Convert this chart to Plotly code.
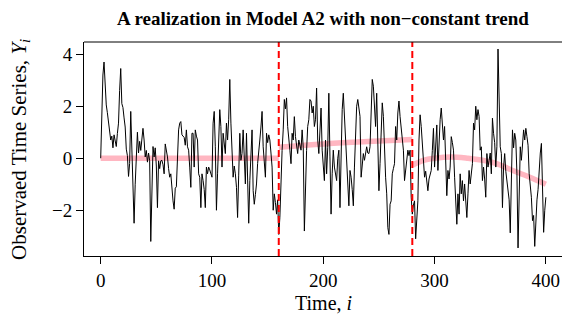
import plotly.graph_objects as go

series_y = [
    0.00, 1.60, 3.20, 3.70, 2.80, 2.05, 1.75, 1.45, 1.15, 0.70,
    0.85, 0.40, 0.90, 0.60, 0.45, 0.95, 1.35, 2.60, 3.45, 2.10,
    1.95, 1.55, 1.20, 0.35, 0.10, -0.70, -0.20, 1.80, 0.40, -1.20,
    -2.50, -1.00, 0.30, 1.00, 0.20, 0.65, 0.30, 0.85, 1.15, 0.70,
    0.05, 0.30, -0.15, 0.20, -0.10, -3.20, -0.85, 0.45, 0.05, 0.40,
    -0.30, -1.90, -0.10, -0.40, -0.10, -0.08, -0.25, -0.60, 0.55, 0.30,
    0.05, -0.40, -0.73, -0.60, -1.20, -1.64, -1.96, -1.15, -1.10, 0.20,
    1.09, 1.35, 1.41, 0.90, 0.83, 0.80, 0.50, 1.09, 0.44, 0.31,
    -0.34, -1.12, 0.96, 0.96, -0.34, 1.09, 0.85, 0.70, -0.60, -0.73,
    -1.90, -0.60, -0.86, -1.20, -1.90, -0.34, -0.60, -0.34, -0.45, -0.60,
    -0.73, 1.35, 1.80, 0.44, -2.00, -0.60, 0.90, 1.87, 1.22, -0.34,
    0.96, 0.40, 0.18, 1.35, 0.70, 1.50, 3.03, 1.35, 0.31, -0.73,
    -0.30, -0.60, -1.12, -2.28, -0.65, 0.96, -0.08, 0.18, 1.09, 0.20,
    -0.99, 0.96, -0.40, -2.50, -0.86, 0.20, 1.09, -1.25, -1.77, -1.40,
    -0.99, -0.20, 0.44, 0.70, 1.20, 1.80, 0.44, -0.20, -0.73, 0.96,
    0.60, 0.90, 0.70, 0.20, -0.34, -2.00, -1.37, -1.70, -2.15, -1.60,
    -2.93, -2.28, -0.60, 0.30, 1.09, 2.26, 1.90, 2.32, 1.22, 0.60,
    0.31, -0.21, 0.96, 0.70, 1.60, 0.83, 0.50, 0.18, 0.70, 0.45,
    0.31, 1.09, 0.40, -2.80, -0.60, 0.30, 1.22, 1.48, 2.26, 2.20,
    1.74, 2.00, 1.22, 1.48, 2.70, 0.70, 0.18, 0.90, 1.93, 0.31,
    -0.20, -0.86, 0.70, -0.60, 0.40, 2.50, 0.05, -2.15, -0.60, 0.31,
    -0.34, -0.60, -0.86, 0.00, 0.31, -1.90, 0.70, 1.87, 2.50, 1.61,
    0.60, -0.34, -1.00, -1.83, -0.47, -0.73, -1.20, -1.83, -0.34, 0.90,
    2.00, 2.26, 1.90, 1.61, -0.73, -0.30, 0.18, -0.08, 0.30, 0.44,
    0.20, 0.18, 0.44, 1.61, 3.03, 2.77, 1.80, 1.22, 2.50, 0.70,
    -1.25, -0.21, 0.80, 2.13, 1.61, 0.31, -0.73, -1.37, -2.67, -2.93,
    -1.77, -1.64, -0.60, -0.40, -0.21, 1.22, 0.70, 1.74, 2.20, 1.60,
    1.22, 0.80, 0.31, -0.86, -0.40, -0.08, 0.31, 0.10, 0.31, -1.50,
    -2.15, -1.80, -1.64, -3.10, -2.30, -1.64, 0.70, 1.67, 1.22, 0.40,
    -0.34, -0.73, -0.50, -0.99, -1.25, -0.80, -0.60, -0.47, 0.30, 1.15,
    -0.34, 0.50, 1.28, -0.47, 0.60, 1.48, 1.93, 1.20, 0.70, 1.22,
    0.20, -1.44, -0.47, -0.80, -0.34, 0.83, 0.60, 0.31, -0.73, -1.50,
    -2.54, -1.37, -2.15, -0.60, -1.37, -0.86, -1.64, -0.99, -1.60, -2.28,
    -1.37, -0.47, -0.99, -0.60, -0.21, 1.35, 1.09, 2.00, 1.48, 1.87,
    1.61, 0.31, 0.44, -0.86, -0.34, -0.80, -1.50, 0.18, -0.34, -0.08,
    0.20, -0.60, 1.54, 0.96, 0.60, -0.34, 0.44, 4.20, 1.74, 0.44,
    0.18, -1.90, -0.34, 0.18, -0.50, -0.86, -1.25, -1.60, -2.87, -0.86,
    1.09, 0.40, 0.96, 0.70, -0.60, -3.45, -0.60, 0.44, -0.08, 0.50,
    1.09, 0.70, 1.15, 0.83, 0.50, -0.60, -1.00, -1.50, -2.40, -2.20,
    -3.39, -2.40, -1.60, -1.20, -0.30, 0.20, 0.57, -1.80, -2.85, -2.00,
    -1.50,
]
time_i = list(range(len(series_y)))

# Piecewise trend (pink)
trend1_t = [0, 160]
trend1_v = [0.0, 0.0]
trend2_t = [160, 200, 240, 280]
trend2_v = [0.42, 0.55, 0.64, 0.72]
trend3_t = [280, 290, 300, 315, 330, 342, 355, 372, 385, 400]
trend3_v = [-0.27, -0.08, 0.0, 0.05, 0.0, -0.07, -0.20, -0.50, -0.72, -1.00]

change_points = [160, 280]

x_ticks = [0, 100, 200, 300, 400]
y_ticks = [-2, 0, 2, 4]

FONT = "Liberation Serif, Times New Roman, serif"
PINK = "#FFB6C1"

fig = go.Figure()
for tt, vv in [(trend1_t, trend1_v), (trend2_t, trend2_v), (trend3_t, trend3_v)]:
    fig.add_trace(go.Scatter(x=tt, y=vv, mode="lines",
                             line=dict(color=PINK, width=5.5, shape="spline"),
                             hoverinfo="skip", showlegend=False))
fig.add_trace(go.Scatter(x=time_i, y=series_y, mode="lines",
                         line=dict(color="black", width=1.0),
                         showlegend=False))

for cp in change_points:
    fig.add_shape(type="line", xref="x", yref="paper", x0=cp, x1=cp, y0=0, y1=1,
                  line=dict(color="#FF0000", width=2, dash="7px,4px"))
# top border of the box
fig.add_shape(type="line", xref="paper", yref="paper", x0=0, x1=1, y0=1, y1=1,
              line=dict(color="black", width=1))

fig.update_layout(
    width=562, height=327,
    margin=dict(l=84, r=0, t=42, b=71),
    paper_bgcolor="white", plot_bgcolor="white",
    font=dict(family=FONT, color="black", size=19),
    title=dict(text="<b>A realization in Model A2 with non\u2212constant trend</b>",
               x=0.5, xref="paper", xanchor="center",
               y=1 - 18 / 327, yref="container", yanchor="middle",
               font=dict(family=FONT, size=19, color="black")),
    xaxis=dict(range=[-15.0, 414.5], tickvals=x_ticks, ticks="outside", ticklen=7,
               tickwidth=1, tickcolor="black", showline=True, linecolor="black",
               linewidth=1, mirror=False, showgrid=False, zeroline=False,
               tickfont=dict(size=19)),
    yaxis=dict(range=[-3.76, 4.47], tickvals=y_ticks, ticks="outside", ticklen=7,
               tickwidth=1, tickcolor="black", showline=True, linecolor="black",
               linewidth=1, mirror=False, showgrid=False, zeroline=False,
               tickfont=dict(size=19)),
    annotations=[
        dict(text="Time, <i>i</i>", xref="x", yref="paper", x=200, y=-0.22,
             xanchor="center", yanchor="middle", showarrow=False,
             font=dict(family=FONT, size=20)),
        dict(text="Observaed Time Series, <i>Y<sub>i</sub></i>", xref="paper", yref="paper",
             x=-0.134, y=0.5, textangle=-90, xanchor="center", yanchor="middle",
             showarrow=False, font=dict(family=FONT, size=21)),
    ],
)

fig.write_html("out.html")
